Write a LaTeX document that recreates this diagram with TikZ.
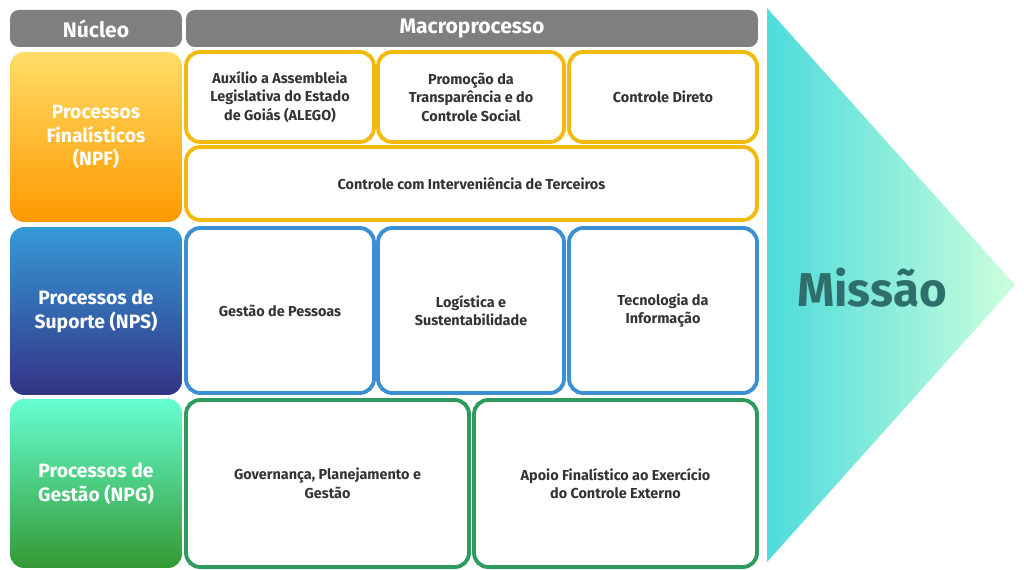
\documentclass[tikz,border=0pt]{standalone}
\usepackage{fontspec}
\setmainfont{Fira Sans}
\usetikzlibrary{calc}
\definecolor{cabec}{HTML}{7F7F7F}
\definecolor{amarelo}{HTML}{F2BA0C}
\definecolor{azul}{HTML}{3B8FD2}
\definecolor{verde}{HTML}{2E9A5E}
\definecolor{texto}{HTML}{333333}
\definecolor{missao}{HTML}{2F6F6B}
\tikzset{
  caixa/.style={draw,line width=2.2pt,rounded corners=8pt,fill=white,align=center,
    text=texto,font=\fontsize{8.2}{10.5}\selectfont\bfseries,inner sep=2pt},
  nucleo/.style={rounded corners=8pt,align=center,text=white,
    font=\fontsize{11}{13.5}\selectfont\bfseries},
  cab/.style={fill=cabec,rounded corners=5pt,text=white,font=\fontsize{12}{14}\selectfont\bfseries}
}
\newcommand{\caixa}[6]{% name, x1, y1, x2, y2, text
  \node[#1] (#2) at ({(#3)/2},0) {};}
\begin{document}
\begin{tikzpicture}[x=0.02cm,y=-0.02cm]
\useasboundingbox (0,0) rectangle (1024,570);
% seta da missao
\shade[left color=cyan!60!teal!70,right color=cyan!30!green!20] (767,8) -- (1015,285) -- (767,562) -- cycle;
\node[font=\fontsize{27}{30}\selectfont\bfseries,text=missao] (missao) at (872,288) {Missão};
% cabecalhos
\node[cab,minimum width=3.44cm,minimum height=0.74cm] (nucleo) at (96,28.5) {Núcleo};
\node[cab,minimum width=11.44cm,minimum height=0.74cm] (macro) at (472,28.5) {Macroprocesso};
% nucleos
\node[nucleo,top color=yellow!55!orange!60,bottom color=orange!80!yellow,minimum width=3.44cm,minimum height=3.4cm] (npf) at (96,137) {Processos\\Finalísticos\\(NPF)};
\node[nucleo,top color=azul!90!cyan,bottom color=blue!40!black!80,minimum width=3.44cm,minimum height=3.36cm] (nps) at (96,311) {Processos de\\Suporte (NPS)};
\node[nucleo,top color=cyan!70!green!60,bottom color=green!50!black!80,minimum width=3.44cm,minimum height=3.38cm] (npg) at (96,483.5) {Processos de\\Gestão (NPG)};
% processos finalisticos
\node[caixa,draw=amarelo,minimum width=3.76cm,minimum height=1.8cm] (alego) at (280,97) {Auxílio a Assembleia\\Legislativa do Estado\\de Goiás (ALEGO)};
\node[caixa,draw=amarelo,minimum width=3.72cm,minimum height=1.8cm] (transp) at (471,97) {Promoção da\\Transparência e do\\Controle Social};
\node[caixa,draw=amarelo,minimum width=3.76cm,minimum height=1.8cm] (direto) at (663,97) {Controle Direto};
\node[caixa,draw=amarelo,minimum width=11.42cm,minimum height=1.46cm] (terceiros) at (471.5,183.5) {Controle com Interveniência de Terceiros};
% processos de suporte
\node[caixa,draw=azul,minimum width=3.76cm,minimum height=3.3cm] (pessoas) at (280,310.5) {Gestão de Pessoas};
\node[caixa,draw=azul,minimum width=3.72cm,minimum height=3.3cm] (logist) at (471,310.5) {Logística e\\Sustentabilidade};
\node[caixa,draw=azul,minimum width=3.76cm,minimum height=3.3cm] (ti) at (663,310.5) {Tecnologia da\\Informação};
% processos de gestao
\node[caixa,draw=verde,minimum width=5.66cm,minimum height=3.34cm] (governanca) at (327.5,483.5) {Governança, Planejamento e\\Gestão};
\node[caixa,draw=verde,minimum width=5.66cm,minimum height=3.34cm] (apoio) at (615.5,483.5) {Apoio Finalístico ao Exercício\\do Controle Externo};
\end{tikzpicture}
\end{document}
